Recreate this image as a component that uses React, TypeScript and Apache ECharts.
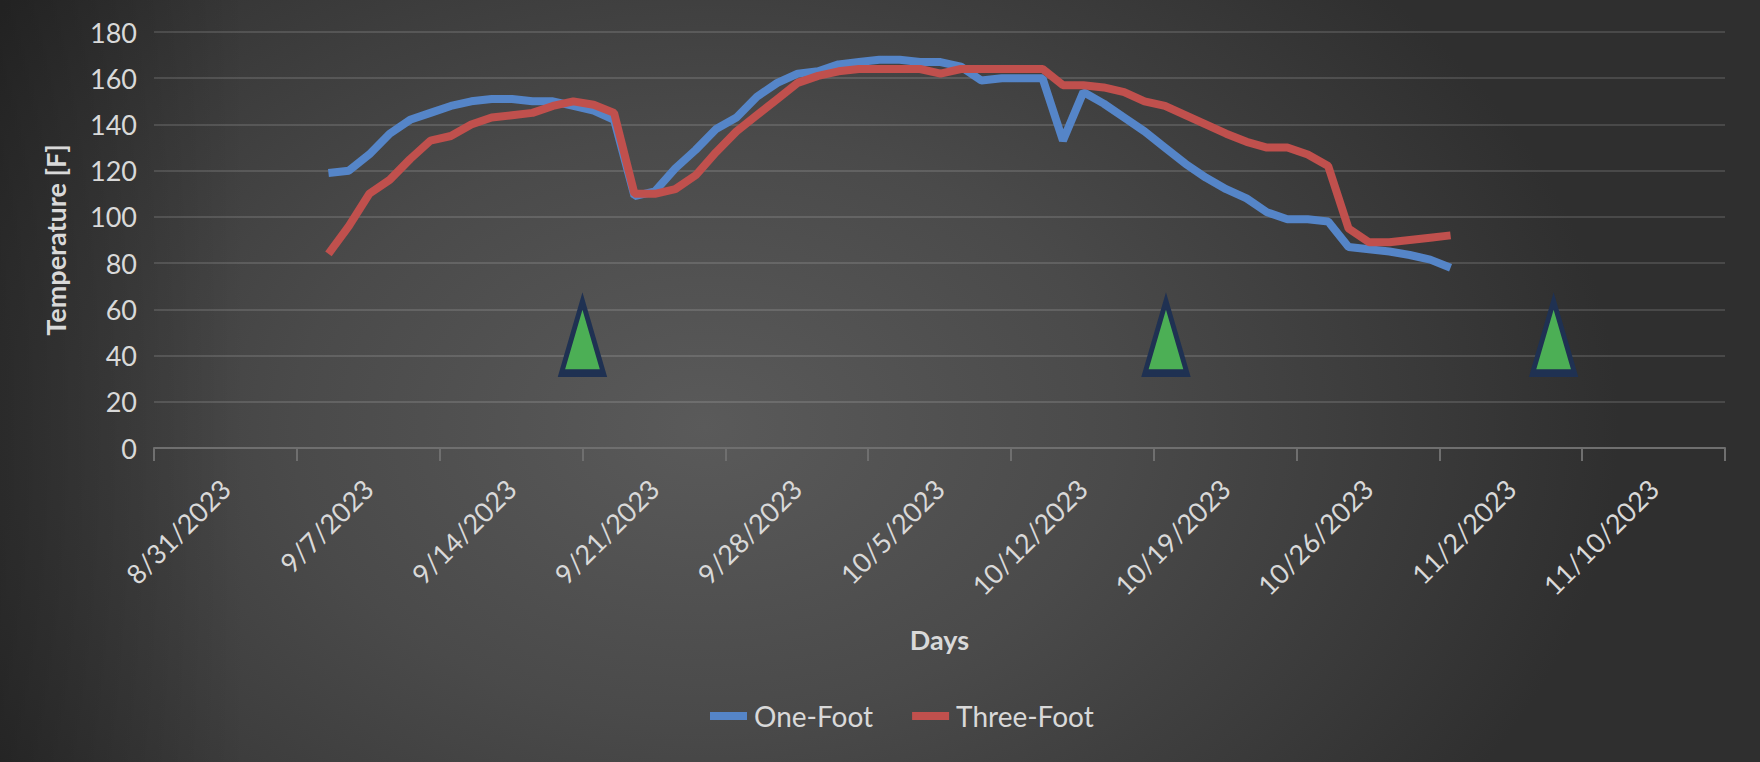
import React, { useEffect, useRef } from "react";
import * as echarts from "echarts";

// Category labels for the x axis (weekly bands)
const weekLabels = [
  "8/31/2023", "9/7/2023", "9/14/2023", "9/21/2023", "9/28/2023", "10/5/2023",
  "10/12/2023", "10/19/2023", "10/26/2023", "11/2/2023", "11/10/2023",
];

// Daily readings, first reading 8 days after 8/31/2023 (placed mid-day)
const firstDayOffset = 8.55;
const oneFoot = [
  119, 120, 127, 136, 142, 145, 148, 150, 151, 151, 150, 150, 148, 146, 142,
  109, 111, 121, 129, 138, 143, 152, 158, 162, 163, 166, 167, 168, 168, 167,
  167, 165, 159, 160, 160, 160, 133, 154, 149, 143, 137, 130, 123, 117, 112,
  108, 102, 99, 99, 98, 87, 86, 85, 83.5, 81.5, 78,
];
const threeFoot = [
  84, 96, 110, 116, 125, 133, 135, 140, 143, 144, 145, 148, 150, 148.5, 145,
  110, 110, 112, 118, 128, 137, 144, 151, 158, 161, 163, 164, 164, 164, 164,
  162, 164, 164, 164, 164, 164, 157, 157, 156, 154, 150, 148, 144, 140, 136,
  132.5, 130, 130, 127, 122, 95, 89, 89, 90, 91, 92,
];

// Event markers (days after 8/31/2023, temperature level)
const markerDays = [21.0, 49.6, 68.6];
const markerTemps = [48, 48, 48];

const yTicks = { min: 0, max: 180, step: 20 };
const totalDays = 77;

const FONT = "Lato";
const TXT = "#d9d9d9";

export default function App() {
  const ref = useRef<HTMLDivElement>(null);

  useEffect(() => {
    if (!ref.current) return;
    const chart = echarts.init(ref.current, null, { renderer: "svg" });
    const toPairs = (arr: number[]) => arr.map((v, i) => [firstDayOffset + i, v]);

    chart.setOption({
      animation: false,
      backgroundColor: "transparent",
      textStyle: { fontFamily: FONT },
      grid: { left: 154, right: 35, top: 32, bottom: 314, containLabel: false },
      legend: {
        left: 705,
        top: 697,
        itemWidth: 37,
        itemHeight: 8,
        itemGap: 39,
        icon: "rect",
        data: ["One-Foot", "Three-Foot"],
        textStyle: { color: TXT, fontSize: 28, fontFamily: FONT, padding: [0, 0, 0, 2] },
      },
      xAxis: [
        {
          type: "category",
          data: weekLabels,
          boundaryGap: true,
          axisLine: { show: true, lineStyle: { color: "#6f6f6f", width: 2 } },
          axisTick: { show: true, length: 13, interval: 0, lineStyle: { color: "#6f6f6f", width: 2 } },
          axisLabel: { rotate: 45, interval: 0, margin: 36, color: TXT, fontSize: 27, fontFamily: FONT },
          splitLine: { show: false },
          name: "Days",
          nameLocation: "middle",
          nameGap: 178,
          nameTextStyle: { color: TXT, fontSize: 27, fontWeight: "bold", fontFamily: FONT },
        },
        {
          type: "value",
          min: 0,
          max: totalDays,
          show: false,
          splitLine: { show: false },
        },
      ],
      yAxis: {
        type: "value",
        min: yTicks.min,
        max: yTicks.max,
        interval: yTicks.step,
        axisLine: { show: false },
        axisTick: { show: false },
        splitLine: { show: true, lineStyle: { color: "rgba(255,255,255,0.13)", width: 2 } },
        axisLabel: { margin: 17, color: TXT, fontSize: 27, fontFamily: FONT },
        name: "Temperature [F]",
        nameLocation: "middle",
        nameGap: 85,
        nameTextStyle: { color: TXT, fontSize: 27, fontWeight: "bold", fontFamily: FONT },
      },
      series: [
        {
          name: "One-Foot",
          type: "line",
          xAxisIndex: 1,
          data: toPairs(oneFoot),
          color: "#5585C8",
          showSymbol: false,
          symbol: "none",
          lineStyle: { width: 8, color: "#5585C8" },
        },
        {
          name: "Three-Foot",
          type: "line",
          xAxisIndex: 1,
          data: toPairs(threeFoot),
          color: "#C0504D",
          showSymbol: false,
          symbol: "none",
          lineStyle: { width: 8, color: "#C0504D" },
        },
        {
          name: "Markers",
          type: "scatter",
          xAxisIndex: 1,
          silent: true,
          data: markerDays.map((d, i) => [d, markerTemps[i]]),
          symbol: "triangle",
          symbolSize: [42, 72],
          itemStyle: { color: "#4CAF55", borderColor: "#1F3152", borderWidth: 6, opacity: 1 },
          z: 5,
        },
      ],
    });
    return () => chart.dispose();
  }, []);

  return (
    <div
      ref={ref}
      style={{
        position: "absolute",
        left: 0,
        top: 0,
        width: 1760,
        height: 762,
        background:
          "linear-gradient(90deg, rgba(0,0,0,0.28) 0%, rgba(0,0,0,0) 14%), radial-gradient(ellipse 52% 85% at 40% 56%, #5a5a5a 0%, #4a4a4a 45%, #393939 80%, #2f2f2f 100%)",
      }}
    />
  );
}
